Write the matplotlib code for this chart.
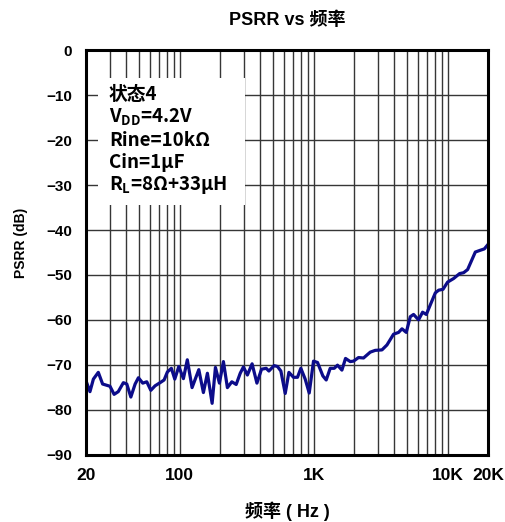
import matplotlib
matplotlib.use("Agg")
import matplotlib.pyplot as plt
from matplotlib.patches import Rectangle
from matplotlib.ticker import FixedLocator, NullFormatter

# Data
freq_hz = [20, 21.4, 22.7, 24.7, 26.6, 30.2, 32.4, 34.8, 38.0, 40.3,
           43.2, 46.5, 49.2, 53.0, 56.8, 60.9, 65.5, 71.4, 76.5, 81.0,
           86.7, 91.9, 98.5, 106.6, 114, 123.7, 138.9, 150.3, 161, 174.6,
           184.8, 198, 212, 227, 245, 264, 283, 299, 320, 347,
           377, 408, 442, 463, 507, 537, 569, 613, 653, 707,
           757, 802, 864, 926, 997, 1068, 1171, 1240, 1328, 1423,
           1506, 1624, 1728, 1874, 1983, 2161, 2355, 2642, 2880, 3231,
           3521, 3945, 4300, 4559, 4906, 5258, 5563, 6063, 6495, 6923,
           8083, 8554, 9226, 9983, 11067, 12273, 13150, 14083, 16070, 17514,
           18766, 20000]
psrr_db = [-73.6, -76.0, -73.2, -71.7, -74.3, -74.8, -76.6, -76.0, -74.0, -74.3,
           -77.2, -74.3, -72.9, -74.1, -73.8, -75.7, -74.7, -74.0, -73.4, -71.6,
           -70.8, -73.2, -70.4, -73.1, -68.9, -75.1, -71.1, -76.2, -71.9, -78.6,
           -70.6, -74.1, -69.3, -75.1, -73.8, -74.4, -71.9, -70.5, -72.3, -69.8,
           -74.1, -71.0, -70.8, -71.4, -70.2, -70.4, -71.4, -76.4, -71.7, -72.8,
           -72.8, -70.8, -73.2, -76.3, -69.2, -69.5, -72.5, -73.4, -70.8, -70.8,
           -70.1, -71.2, -68.6, -69.3, -69.2, -68.4, -68.5, -67.2, -66.8, -66.7,
           -65.6, -63.2, -62.8, -62.0, -62.8, -59.3, -58.8, -60.0, -58.3, -58.8,
           -54.0, -53.4, -53.2, -51.6, -50.8, -49.7, -49.5, -48.8, -44.9, -44.5,
           -44.2, -43.2]

x_ticks = [20, 100, 1000, 10000, 20000]
x_tick_labels = ["20", "100", "1K", "10K", "20K"]
x_grid = [30, 40, 50, 60, 70, 80, 90, 100,
          200, 300, 400, 500, 600, 700, 800, 900, 1000,
          2000, 3000, 4000, 5000, 6000, 7000, 8000, 9000, 10000]
y_ticks = [0, -10, -20, -30, -40, -50, -60, -70, -80, -90]

info_lines = ["状态4",
              r"V$_{\mathbf{DD}}$=4.2V",
              "Rine=10kΩ",
              "Cin=1μF",
              r"R$_{\mathbf{L}}$=8Ω+33μH"]

plt.rcParams['font.family'] = ['Liberation Sans', 'Noto Sans CJK SC', 'DejaVu Sans']
plt.rcParams['mathtext.fontset'] = 'custom'
plt.rcParams['mathtext.bf'] = 'Noto Sans CJK SC:bold'
plt.rcParams['mathtext.rm'] = 'Noto Sans CJK SC:bold'

fig = plt.figure(figsize=(5.06, 5.22), dpi=100)
ax = fig.add_axes([0.170, 0.1293, 0.7945, 0.774])

ax.set_xscale('log')
ax.set_xlim(20, 20000)
ax.set_ylim(-90, 0)

grid_color = '#363636'
for gx in x_grid:
    ax.axvline(gx, color=grid_color, lw=1.0, zorder=0.5)
for gy in y_ticks[1:-1]:
    ax.axhline(gy, color=grid_color, lw=1.0, zorder=0.5)

# white backing for the condition text
ax.add_patch(Rectangle((0.030, 0.6176), 0.3655, 0.3144, transform=ax.transAxes,
                       facecolor='white', edgecolor='none', zorder=1))

ax.plot(freq_hz, psrr_db, color='#0c0c8a', lw=2.3, zorder=3,
        solid_joinstyle='round')

ax.xaxis.set_major_locator(FixedLocator(x_ticks))
ax.xaxis.set_minor_locator(FixedLocator([]))
ax.xaxis.set_minor_formatter(NullFormatter())
ax.set_xticklabels(x_tick_labels)
ax.set_yticks(y_ticks)
ax.tick_params(axis='y', length=0, labelsize=11, pad=10)
ax.tick_params(axis='x', length=0, labelsize=12.5, pad=10)
for lab in ax.get_xticklabels() + ax.get_yticklabels():
    lab.set_fontweight('bold')

for sp in ax.spines.values():
    sp.set_linewidth(2.2)
    sp.set_zorder(4)

ax.set_title("PSRR vs 频率", fontsize=13, fontweight='bold', pad=18,
             family=['Liberation Sans', 'Noto Sans CJK SC'])
ax.set_xlabel("频率 ( Hz )", fontsize=13, fontweight='bold', labelpad=13,
              family=['Liberation Sans', 'Noto Sans CJK SC'])
ax.set_ylabel("PSRR (dB)", fontsize=10, fontweight='bold')
ax.yaxis.set_label_coords(-0.145, 0.523)

y_pos = [0.890, 0.835, 0.778, 0.723, 0.668]
for txt, yp in zip(info_lines, y_pos):
    ax.text(0.057, yp, txt, transform=ax.transAxes, fontsize=13.5,
            fontweight='bold', va='center', ha='left', zorder=5,
            family=['Noto Sans CJK SC'])

fig.savefig("out.png", dpi=100)
